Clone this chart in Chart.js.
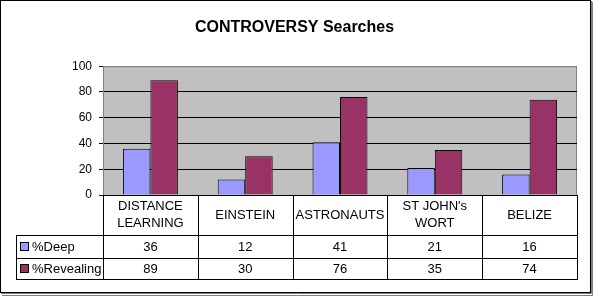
<!DOCTYPE html>
<html>
<head>
<meta charset="utf-8">
<script src="https://cdn.jsdelivr.net/npm/chart.js@4"></script>
<style>
  html, body { margin: 0; padding: 0; background: #fff; }
  #wrap { width: 593px; height: 296px; }
</style>
</head>
<body>
<div id="wrap"><canvas id="c" width="593" height="296"></canvas></div>
<script>
//---data---
const categories = [['DISTANCE', 'LEARNING'], ['EINSTEIN'], ['ASTRONAUTS'], ["ST JOHN's", 'WORT'], ['BELIZE']];
const seriesNames = ['%Deep', '%Revealing'];
const deepValues = [36, 12, 41, 21, 16];
const revealingValues = [89, 30, 76, 35, 74];
const yTicks = [0, 20, 40, 60, 80, 100];

const FONT = '"Liberation Sans", Arial, sans-serif';
const seriesColors = ['#9999FF', '#993366'];

//-------------------Plugins-------------------
// grey plot area + outer frame
const plotBackground = {
  id: 'plotBackground',
  beforeDraw(chart) {
    const ctx = chart.ctx;
    const a = chart.chartArea;
    ctx.save();
    ctx.fillStyle = '#fff';
    ctx.fillRect(0, 0, chart.width, chart.height);
    ctx.fillStyle = '#C0C0C0';
    ctx.fillRect(a.left, a.top, a.right - a.left, a.bottom - a.top);
    ctx.strokeStyle = '#808080';
    ctx.lineWidth = 1;
    ctx.strokeRect(a.left + 0.5, a.top + 0.5, a.right - a.left - 1, a.bottom - a.top);
    // chart border with small shadow
    ctx.strokeStyle = '#000';
    ctx.strokeRect(0.5, 0.5, 590, 292);
    ctx.strokeStyle = '#808080';
    ctx.beginPath();
    ctx.moveTo(592.5, 2); ctx.lineTo(592.5, 295.5); ctx.lineTo(2, 295.5);
    ctx.moveTo(591.5, 1); ctx.lineTo(591.5, 293.5); ctx.lineTo(1, 293.5);
    ctx.stroke();
    ctx.restore();
  }
};

// data table under the plot, columns follow the x scale
const dataTable = {
  id: 'dataTable',
  afterDraw(chart) {
    const ctx = chart.ctx;
    const a = chart.chartArea;
    const xs = chart.scales.x;
    const n = categories.length;
    const colW = (a.right - a.left) / n;
    const headTop = a.bottom, headBottom = a.bottom + 40;
    const rowH = [23, 21];
    const legendLeft = 16;
    const rows = [deepValues, revealingValues];

    ctx.save();
    ctx.strokeStyle = '#000';
    ctx.lineWidth = 1;
    ctx.beginPath();
    // vertical lines of category columns
    const tableBottom = headBottom + rowH[0] + rowH[1];
    for (let i = 0; i <= n; i++) {
      const x = Math.round(a.left + i * colW) + 0.5;
      ctx.moveTo(x, headTop);
      ctx.lineTo(x, tableBottom);
    }
    ctx.moveTo(legendLeft + 0.5, headBottom);
    ctx.lineTo(legendLeft + 0.5, tableBottom);
    // horizontal lines
    let y = headBottom;
    [0, rowH[0], rowH[1]].forEach(h => {
      y += h;
      ctx.moveTo(legendLeft, Math.round(y) + 0.5);
      ctx.lineTo(Math.round(a.right) + 1, Math.round(y) + 0.5);
    });
    ctx.stroke();

    ctx.fillStyle = '#000';
    ctx.font = '13px ' + FONT;
    ctx.textAlign = 'center';
    ctx.textBaseline = 'middle';
    // header labels
    const headMid = (headTop + headBottom) / 2;
    categories.forEach((lines, i) => {
      const cx = xs.getPixelForValue(i);
      lines.forEach((t, k) => {
        ctx.fillText(t, cx, headMid + (k - (lines.length - 1) / 2) * 17);
      });
    });
    // value rows
    let top = headBottom;
    rows.forEach((vals, r) => {
      const mid = top + rowH[r] / 2 + 0.5;
      vals.forEach((v, i) => {
        ctx.fillText(String(v), xs.getPixelForValue(i), mid);
      });
      // legend key
      ctx.fillStyle = seriesColors[r];
      ctx.fillRect(21, Math.round(mid) - 4, 7, 7);
      ctx.strokeRect(20.5, Math.round(mid) - 4.5, 8, 8);
      ctx.fillStyle = '#000';
      ctx.textAlign = 'left';
      ctx.fillText(seriesNames[r], 32, mid);
      ctx.textAlign = 'center';
      top += rowH[r];
    });
    ctx.restore();
  }
};

//-------------------Chart-------------------
new Chart(document.getElementById('c'), {
  type: 'bar',
  data: {
    labels: categories,
    datasets: [
      { label: seriesNames[0], data: deepValues, backgroundColor: seriesColors[0] },
      { label: seriesNames[1], data: revealingValues, backgroundColor: seriesColors[1] }
    ]
  },
  options: {
    responsive: false,
    animation: false,
    devicePixelRatio: 1,
    layout: { padding: { left: 12, right: 16, top: 0, bottom: 101 } },
    datasets: {
      bar: {
        borderColor: '#000',
        borderWidth: 1,
        categoryPercentage: 0.58,
        barPercentage: 1.0
      }
    },
    plugins: {
      legend: { display: false },
      tooltip: { enabled: false },
      title: {
        display: true,
        text: 'CONTROVERSY Searches',
        color: '#000',
        font: { family: FONT, size: 16, weight: 'bold' },
        padding: { top: 18, bottom: 29 }
      }
    },
    scales: {
      x: { display: false },
      y: {
        min: 0,
        max: 100,
        afterBuildTicks(scale) { scale.ticks = yTicks.map(v => ({ value: v })); },
        afterFit(scale) { scale.width = 91; },
        border: { display: true, color: '#808080' },
        grid: {
          color: ctx => (ctx.tick && ctx.tick.value === 100) ? '#808080' : '#000',
          tickColor: '#000',
          tickLength: 4,
          lineWidth: 1
        },
        ticks: {
          color: '#000',
          padding: 7,
          font: { family: FONT, size: 12 }
        }
      }
    }
  },
  plugins: [plotBackground, dataTable]
});
</script>
</body>
</html>
